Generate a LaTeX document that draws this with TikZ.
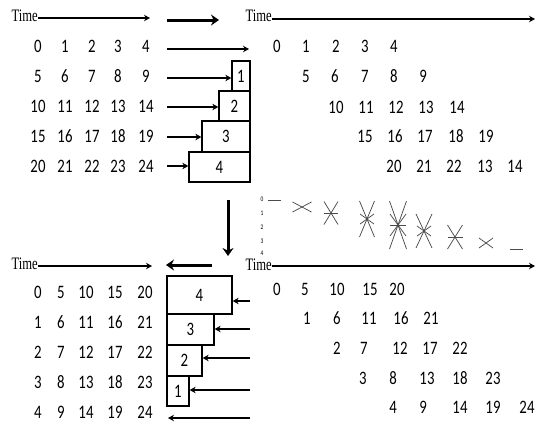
\documentclass[tikz,border=0pt]{standalone}
\usepackage{fontspec}
\usetikzlibrary{arrows.meta}
\newfontfamily\numf[FakeStretch=0.78]{Carlito}
\newfontfamily\timef[FakeStretch=0.72]{Liberation Serif}
\newcommand\xpair[4]{\draw[starline] ({#1-#3},{#2-#4}) -- ({#1+#3},{#2+#4}); \draw[starline] ({#1-#3},{#2+#4}) -- ({#1+#3},{#2-#4});}
\newcommand\hstroke[3]{\draw[starline] ({#1-#3},#2) -- ({#1+#3},#2);}
\begin{document}
\begin{tikzpicture}[x=1pt,y=-1pt,
  num/.style={font=\numf\fontsize{19}{19}\selectfont, inner sep=0pt},
  timelbl/.style={font=\timef\fontsize{17.5}{17.5}\selectfont, inner sep=0pt, anchor=east},
  thinarrow/.style={line width=1.3pt, -{Stealth[length=6pt,width=6.5pt]}},
  thickarrow/.style={line width=3pt, -{Stealth[length=8pt,width=11pt]}},
  boxnode/.style={draw, line width=1.3pt, inner sep=0pt, font=\numf\fontsize{19}{19}\selectfont},
  starline/.style={black!70, line width=0.75pt},
  tiny/.style={font=\numf\fontsize{7}{7}\selectfont, inner sep=0pt}
]
\useasboundingbox (0,0) rectangle (535,432);

% ---------- top-left ----------
\node[timelbl] (tl) at (38,16) {Time};
\coordinate (tla) at (38,18);
\coordinate (tlb) at (150,18);
\draw[thinarrow] (tla) -- (tlb);
\coordinate (tha) at (167,20);
\coordinate (thb) at (219,20);
\draw[thickarrow] (tha) -- (thb);

\foreach \r/\y in {0/46,1/76,2/106,3/136,4/166}{
  \foreach \c/\x in {0/38,1/65,2/92,3/118,4/146}{
    \pgfmathtruncatemacro\v{5*\r+\c}
    \node[num] (tl-\r-\c) at (\x,\y) {\v};
  }
}

\node[boxnode, minimum width=18pt, minimum height=30pt] (b1) at (241,76) {1};
\node[boxnode, minimum width=31pt, minimum height=30pt] (b2) at (234.5,106) {2};
\node[boxnode, minimum width=48pt, minimum height=31pt] (b3) at (226,136.5) {3};
\node[boxnode, minimum width=61pt, minimum height=30pt] (b4) at (219.5,167) {4};

\coordinate (r1s) at (167,49);
\coordinate (r1e) at (249,49);
\draw[thinarrow] (r1s) -- (r1e);
\coordinate (r2s) at (167,78);
\draw[thinarrow] (r2s) -- (b1.west |- r2s);
\coordinate (r3s) at (167,107);
\draw[thinarrow] (r3s) -- (b2.west |- r3s);
\coordinate (r4s) at (167,137);
\draw[thinarrow] (r4s) -- (b3.west |- r4s);
\coordinate (r5s) at (167,166);
\draw[thinarrow] (r5s) -- (b4.west |- r5s);

% ---------- top-right ----------
\node[timelbl] (tr) at (272,16) {Time};
\coordinate (tra) at (272,19);
\coordinate (trb) at (535,19);
\draw[thinarrow] (tra) -- (trb);

\node[num] (q00) at (277,46) {0};
\node[num] (q01) at (306,46) {1};
\node[num] (q02) at (336,46) {2};
\node[num] (q03) at (365,46) {3};
\node[num] (q04) at (394,46) {4};
\node[num] (q10) at (306,76) {5};
\node[num] (q11) at (335,76) {6};
\node[num] (q12) at (365,76) {7};
\node[num] (q13) at (394,76) {8};
\node[num] (q14) at (423,76) {9};
\node[num] (q20) at (336,107) {10};
\node[num] (q21) at (366,107) {11};
\node[num] (q22) at (396,107) {12};
\node[num] (q23) at (426,107) {13};
\node[num] (q24) at (457,107) {14};
\node[num] (q30) at (365,136) {15};
\node[num] (q31) at (395,136) {16};
\node[num] (q32) at (425,136) {17};
\node[num] (q33) at (456,136) {18};
\node[num] (q34) at (486,136) {19};
\node[num] (q40) at (394,166) {20};
\node[num] (q41) at (424,166) {21};
\node[num] (q42) at (454,166) {22};
\node[num] (q43) at (485,166) {13};
\node[num] (q44) at (515,166) {14};

% ---------- middle ----------
\coordinate (dva) at (228,200);
\coordinate (dvb) at (228,256);
\draw[thickarrow] (dva) -- (dvb);

\node[tiny] (m0) at (262,199) {0};
\node[tiny] (m1) at (262,213) {1};
\node[tiny] (m2) at (262,227) {2};
\node[tiny] (m3) at (262,241) {3};
\node[tiny] (m4) at (262,253.5) {4};

\hstroke{274.5}{200}{6.5}
\xpair{302}{207}{9.5}{5}
\xpair{331}{213}{7}{11.5}
\hstroke{331}{213}{7}
\xpair{367}{219}{7.5}{18}
\xpair{367}{219}{7}{5}
\xpair{398}{225}{8.5}{24}
\xpair{398}{225}{8}{11}
\hstroke{398}{225}{8}
\xpair{424}{231}{8}{17}
\xpair{424}{231}{7}{5}
\xpair{455}{237}{7.5}{12}
\hstroke{455}{237}{7.5}
\xpair{486}{243}{7}{5}
\hstroke{516.5}{249}{6.5}

% ---------- bottom-left ----------
\node[timelbl] (bl) at (38,264) {Time};
\coordinate (bla) at (38,266);
\coordinate (blb) at (152,266);
\draw[thinarrow] (bla) -- (blb);
\coordinate (bha) at (212,265);
\coordinate (bhb) at (166,265);
\draw[thickarrow] (bha) -- (bhb);

\foreach \r/\y in {0/292,1/322,2/352,3/382,4/412}{
  \foreach \c/\x in {0/38,1/61,2/86,3/115,4/145}{
    \pgfmathtruncatemacro\v{\r+5*\c}
    \node[num] (bl-\r-\c) at (\x,\y) {\v};
  }
}

\node[boxnode, minimum width=65pt, minimum height=38pt] (c4) at (199.5,295) {4};
\node[boxnode, minimum width=47pt, minimum height=31pt] (c3) at (190.5,329.5) {3};
\node[boxnode, minimum width=35pt, minimum height=31pt] (c2) at (184.5,360.5) {2};
\node[boxnode, minimum width=22pt, minimum height=30pt] (c1) at (178,391) {1};

\coordinate (l1s) at (250,301);
\draw[thinarrow] (l1s) -- (c4.east |- l1s);
\coordinate (l2s) at (250,329);
\draw[thinarrow] (l2s) -- (c3.east |- l2s);
\coordinate (l3s) at (250,358);
\draw[thinarrow] (l3s) -- (c2.east |- l3s);
\coordinate (l4s) at (250,390);
\draw[thinarrow] (l4s) -- (c1.east |- l4s);
\coordinate (l5s) at (250,418);
\coordinate (l5e) at (168,418);
\draw[thinarrow] (l5s) -- (l5e);

% ---------- bottom-right ----------
\node[timelbl] (br) at (272,265) {Time};
\coordinate (bra) at (272,266);
\coordinate (brb) at (535,266);
\draw[thinarrow] (bra) -- (brb);

\node[num] (p00) at (277,289) {0};
\node[num] (p01) at (305,289) {5};
\node[num] (p02) at (337,289) {10};
\node[num] (p03) at (370,289) {15};
\node[num] (p04) at (397,289) {20};
\node[num] (p10) at (307,318) {1};
\node[num] (p11) at (337,318) {6};
\node[num] (p12) at (369,318) {11};
\node[num] (p13) at (401,318) {16};
\node[num] (p14) at (431,318) {21};
\node[num] (p20) at (337,348) {2};
\node[num] (p21) at (364,348) {7};
\node[num] (p22) at (400,348) {12};
\node[num] (p23) at (430,348) {17};
\node[num] (p24) at (460,348) {22};
\node[num] (p30) at (363,378) {3};
\node[num] (p31) at (393,378) {8};
\node[num] (p32) at (427,378) {13};
\node[num] (p33) at (460,378) {18};
\node[num] (p34) at (493,378) {23};
\node[num] (p40) at (393,407) {4};
\node[num] (p41) at (423,407) {9};
\node[num] (p42) at (460,407) {14};
\node[num] (p43) at (493,407) {19};
\node[num] (p44) at (527,407) {24};
\end{tikzpicture}
\end{document}
